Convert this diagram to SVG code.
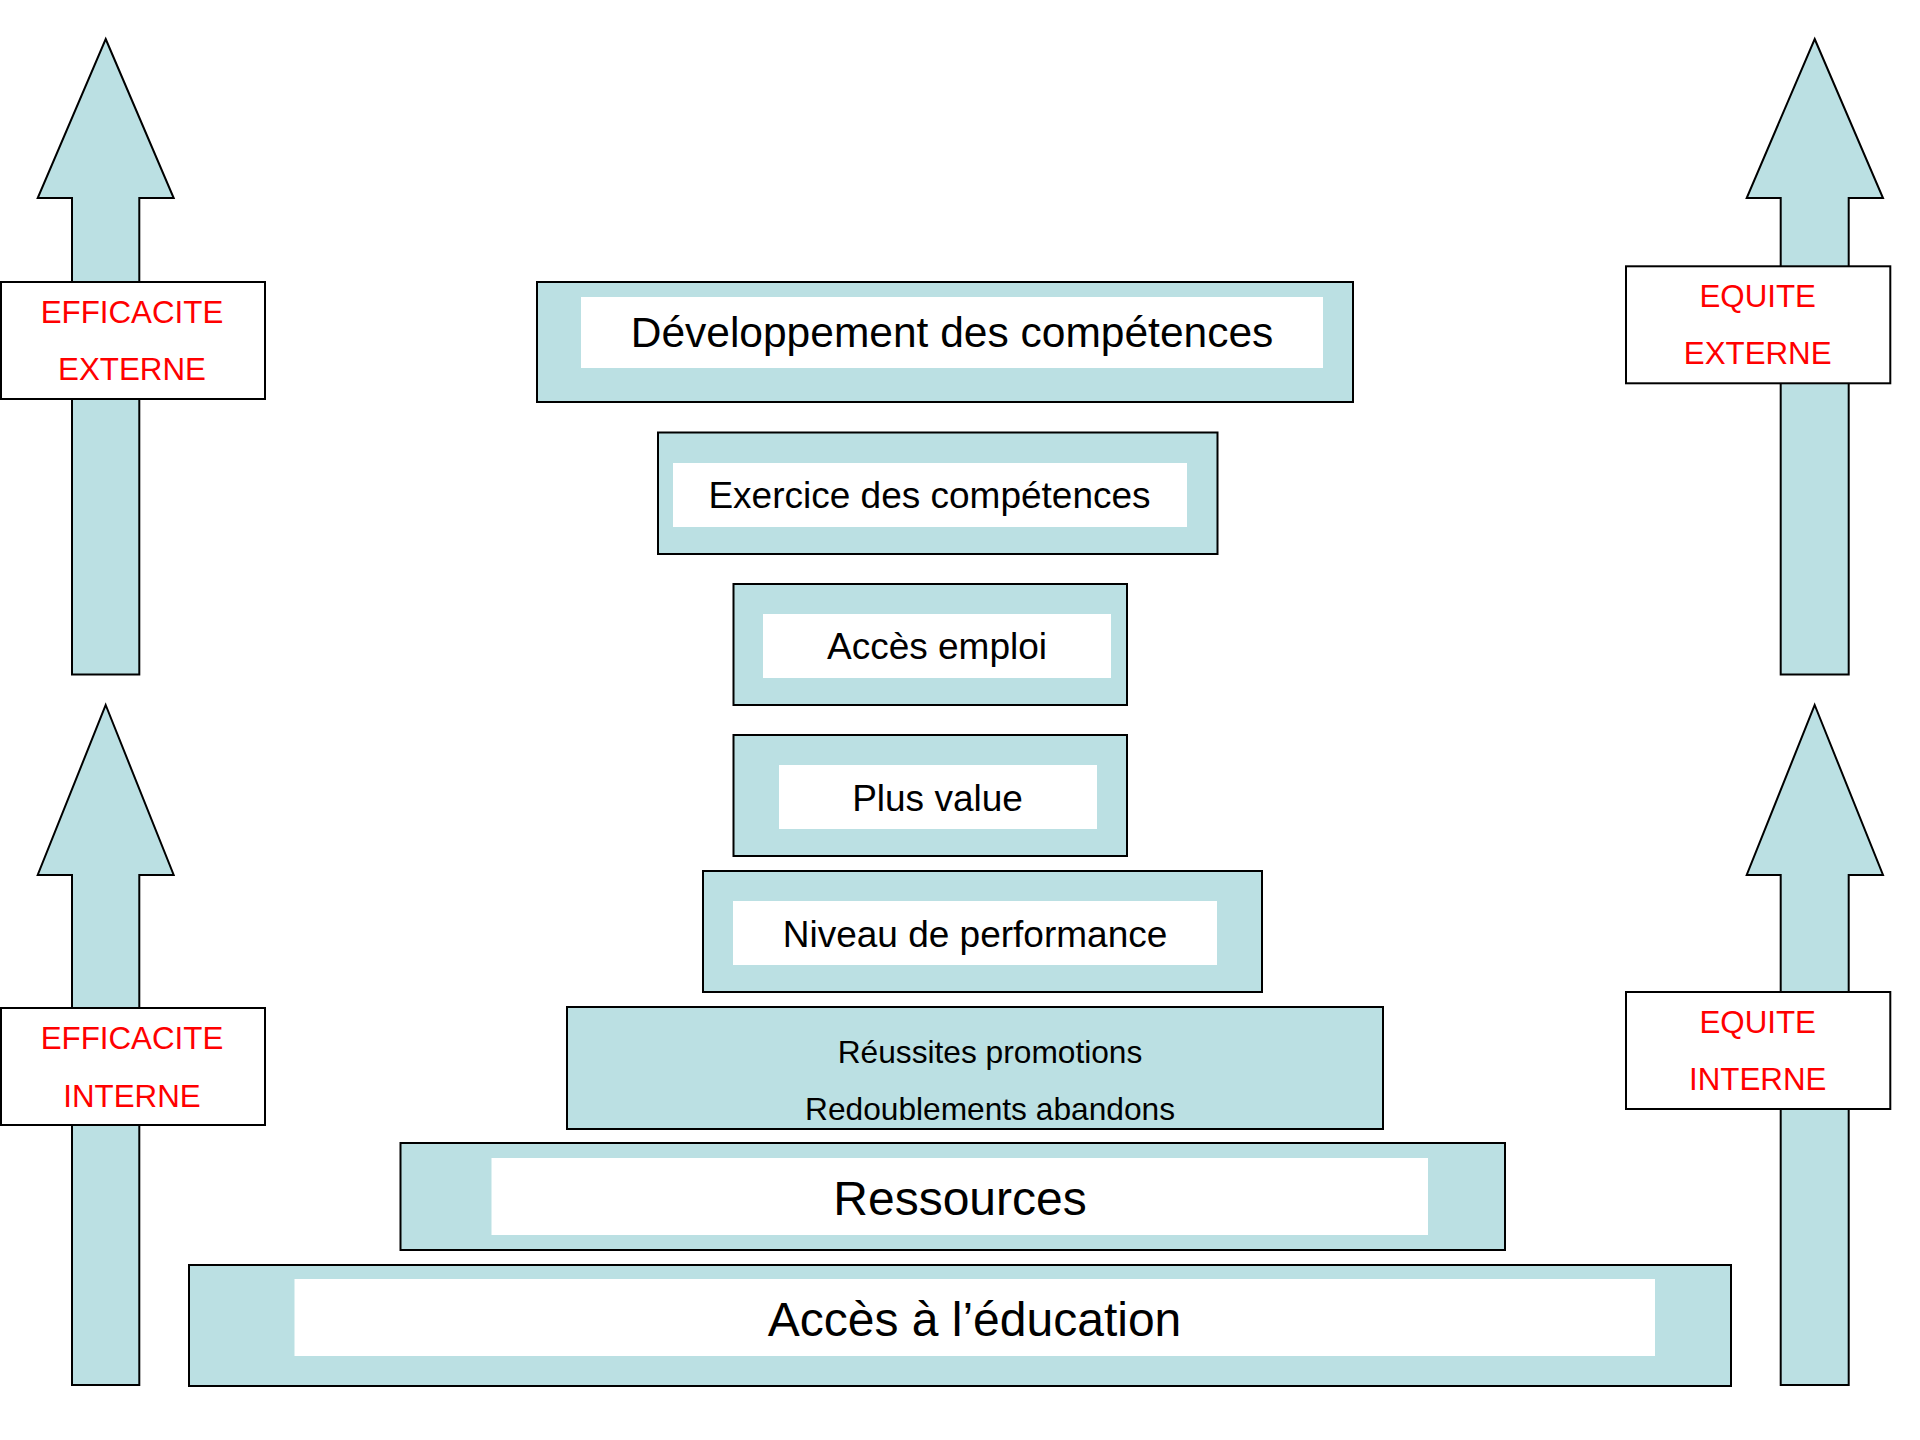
<svg xmlns="http://www.w3.org/2000/svg" width="1920" height="1440" viewBox="0 0 1920 1440">
<style>
.teal{fill:#BBE0E3;stroke:#000;stroke-width:2}
.inner{fill:#FFFFFF;stroke:none}
.lbl{fill:#FFFFFF;stroke:#000;stroke-width:2}
.arrow{fill:#BBE0E3;stroke:#000;stroke-width:2;stroke-linejoin:miter}
text{font-family:"Liberation Sans",Arial,sans-serif;text-anchor:middle}
.blk{fill:#000}
.red{fill:#FF0000;font-size:31.3px}
</style>
<rect x="0" y="0" width="1920" height="1440" fill="#FFFFFF"/>
<g id="arrows">
<polygon id="arrow-left-top" class="arrow" points="105.7,39 173.7,198 139.3,198 139.3,674.5 72,674.5 72,198 37.7,198"/>
<polygon id="arrow-left-bottom" class="arrow" points="105.7,705 173.7,875 139.3,875 139.3,1385 72,1385 72,875 37.7,875"/>
<polygon id="arrow-right-top" class="arrow" points="1814.7,39 1883,198 1848.7,198 1848.7,674.5 1780.7,674.5 1780.7,198 1746.7,198"/>
<polygon id="arrow-right-bottom" class="arrow" points="1814.7,705 1883,875 1848.7,875 1848.7,1385 1780.7,1385 1780.7,875 1746.7,875"/>
</g>
<g id="label-efficacite-externe">
<rect class="lbl" x="1" y="282" width="264" height="117"/>
<text class="red" x="132" y="322.7">EFFICACITE</text>
<text class="red" x="132" y="380">EXTERNE</text>
</g>
<g id="label-efficacite-interne">
<rect class="lbl" x="1" y="1008" width="264" height="117"/>
<text class="red" x="132" y="1049">EFFICACITE</text>
<text class="red" x="132" y="1106.7">INTERNE</text>
</g>
<g id="label-equite-externe">
<rect class="lbl" x="1626" y="266.3" width="264.3" height="117"/>
<text class="red" x="1757.7" y="306.7">EQUITE</text>
<text class="red" x="1757.7" y="364">EXTERNE</text>
</g>
<g id="label-equite-interne">
<rect class="lbl" x="1626" y="992" width="264.3" height="117"/>
<text class="red" x="1757.7" y="1032.7">EQUITE</text>
<text class="red" x="1757.7" y="1090">INTERNE</text>
</g>
<g id="node-developpement">
<rect class="teal" x="537" y="282" width="816" height="120"/>
<rect class="inner" x="581" y="297" width="742" height="71"/>
<text class="blk" x="952" y="347.3" font-size="42.5">Développement des compétences</text>
</g>
<g id="node-exercice">
<rect class="teal" x="658" y="432.5" width="559.5" height="121.5"/>
<rect class="inner" x="673" y="463" width="514" height="64"/>
<text class="blk" x="929.5" y="508.3" font-size="37">Exercice des compétences</text>
</g>
<g id="node-acces-emploi">
<rect class="teal" x="733.5" y="584" width="393.5" height="121"/>
<rect class="inner" x="763" y="614" width="348" height="64"/>
<text class="blk" x="937" y="659.3" font-size="37">Accès emploi</text>
</g>
<g id="node-plus-value">
<rect class="teal" x="733.5" y="735" width="393.5" height="121"/>
<rect class="inner" x="779" y="765" width="318" height="64"/>
<text class="blk" x="937.5" y="810.7" font-size="37">Plus value</text>
</g>
<g id="node-niveau">
<rect class="teal" x="703" y="871" width="559" height="121"/>
<rect class="inner" x="733" y="901" width="484" height="64"/>
<text class="blk" x="975" y="947.3" font-size="37">Niveau de performance</text>
</g>
<g id="node-reussites">
<rect class="teal" x="567" y="1007" width="816" height="122"/>
<text class="blk" x="990" y="1063.3" font-size="31.7">Réussites promotions</text>
<text class="blk" x="990" y="1120" font-size="31.7">Redoublements abandons</text>
</g>
<g id="node-ressources">
<rect class="teal" x="400.5" y="1143" width="1104.5" height="107"/>
<rect class="inner" x="491.5" y="1158" width="936.5" height="77"/>
<text class="blk" x="960" y="1215" font-size="48">Ressources</text>
</g>
<g id="node-acces-education">
<rect class="teal" x="189" y="1265" width="1542" height="121"/>
<rect class="inner" x="294.5" y="1279" width="1360.5" height="77"/>
<text class="blk" x="974.5" y="1335.7" font-size="48">Accès à l’éducation</text>
</g>
<g id="connectors"></g>
</svg>
